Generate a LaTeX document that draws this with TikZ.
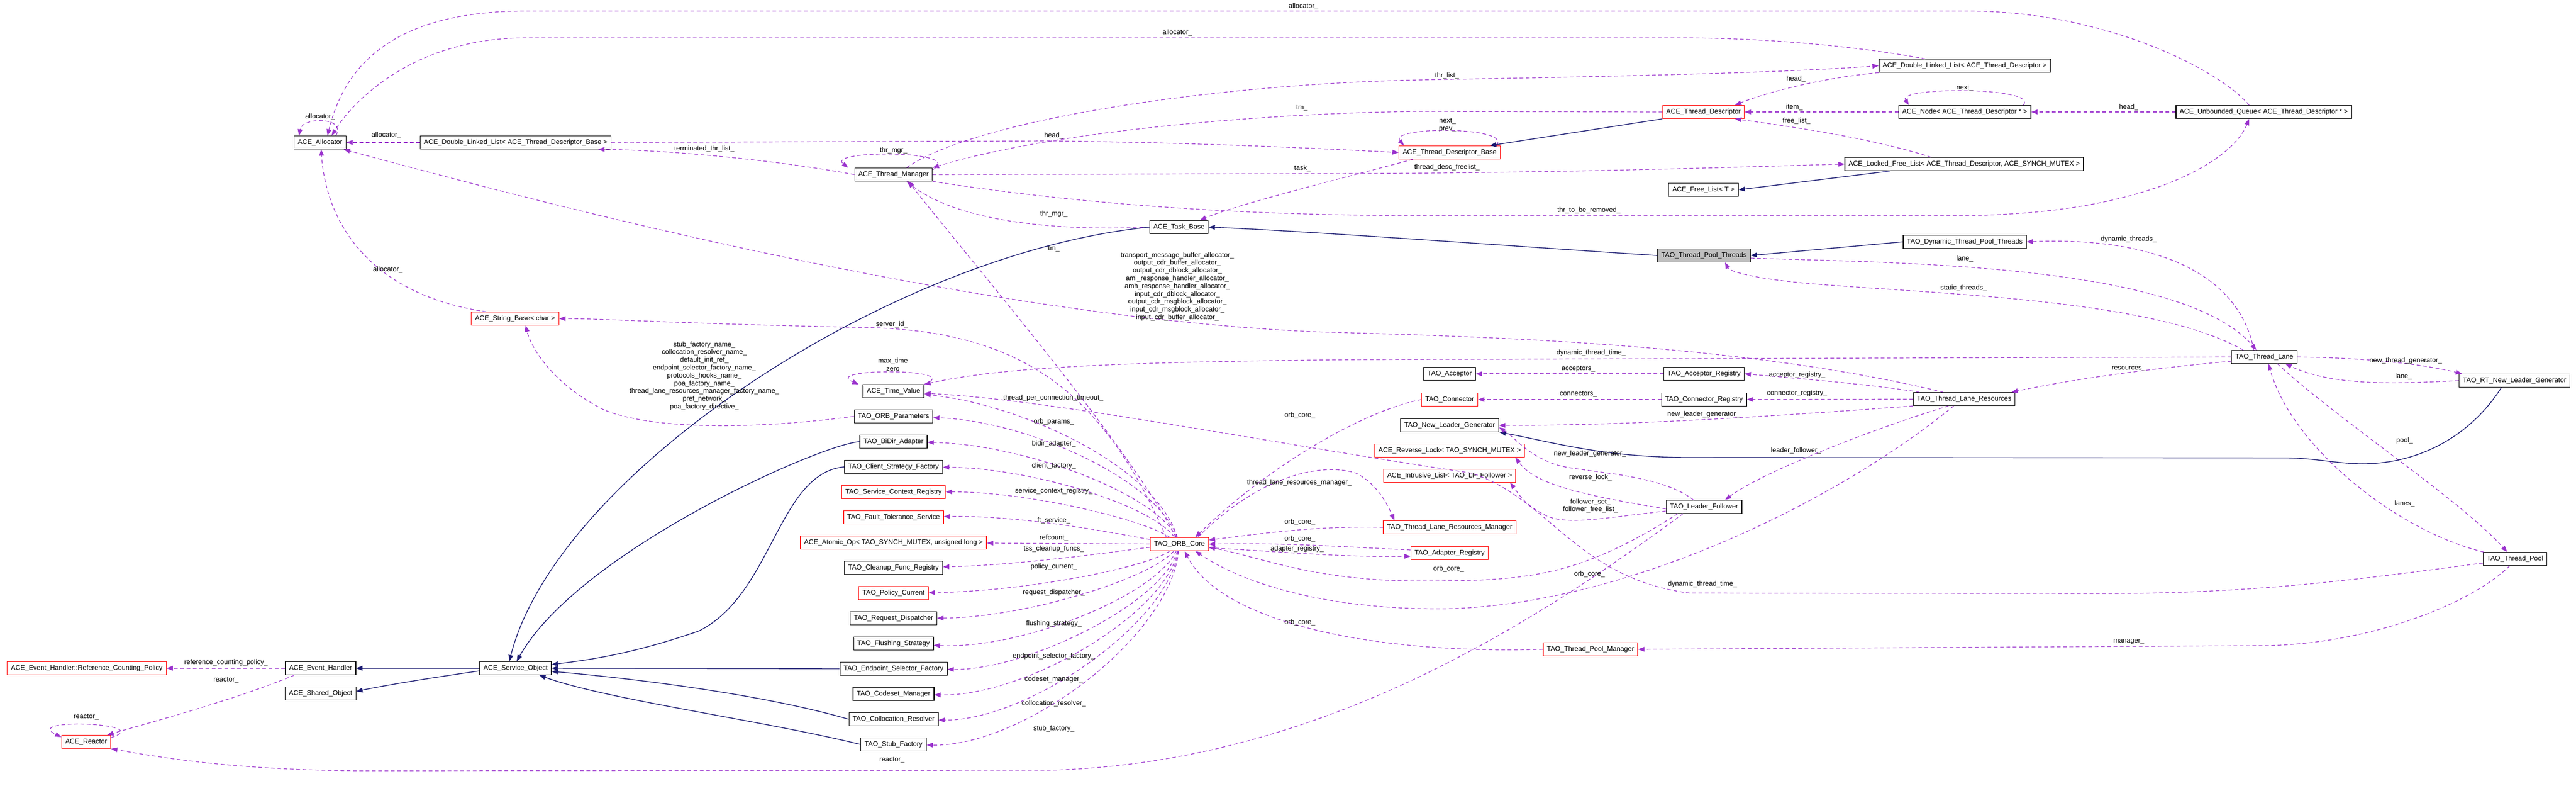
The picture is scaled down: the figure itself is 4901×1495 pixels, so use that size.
\documentclass[tikz,border=0pt]{standalone}
\usepackage{fontspec}
\setmainfont{Liberation Sans}
\usetikzlibrary{arrows.meta}
\definecolor{dpurple}{HTML}{9A32CD}
\definecolor{inhblue}{HTML}{191970}
\newcommand\lblfont{\fontsize{13}{14.8}\selectfont}
\tikzset{
 cls/.style={draw=black, line width=1.2pt, fill=white, inner xsep=7pt, inner ysep=0pt, minimum height=25pt, font=\lblfont},
 redcls/.style={cls, draw=red},
 graycls/.style={cls, fill=black!25},
 dep/.style={draw=dpurple, line width=1.2pt, dash pattern=on 7pt off 5pt, -{Triangle[length=12pt,width=9pt,fill=dpurple]}},
 inh/.style={draw=inhblue, line width=1.4pt, -{Triangle[length=12pt,width=9pt,fill=inhblue]}},
 lab/.style={font=\lblfont, inner sep=1pt, align=center}
}
\begin{document}
\begin{tikzpicture}[x=1pt,y=-1pt]
\useasboundingbox[fill=white] (0,0) rectangle (4901,1495);
% nodes
\node[cls] (alloc) at (609,271) {ACE\_Allocator};
\node[cls] (dlltdb) at (981,271) {ACE\_Double\_Linked\_List< ACE\_Thread\_Descriptor\_Base >};
\node[cls] (tm) at (1700,332) {ACE\_Thread\_Manager};
\node[cls] (task) at (2243,432) {ACE\_Task\_Base};
\node[cls] (dlltd) at (3738,125) {ACE\_Double\_Linked\_List< ACE\_Thread\_Descriptor >};
\node[redcls] (td) at (3241,213) {ACE\_Thread\_Descriptor};
\node[cls] (anode) at (3738,213) {ACE\_Node< ACE\_Thread\_Descriptor * >};
\node[cls] (uq) at (4307,213) {ACE\_Unbounded\_Queue< ACE\_Thread\_Descriptor * >};
\node[redcls] (tdb) at (2758,290) {ACE\_Thread\_Descriptor\_Base};
\node[cls] (lfl) at (3737,312) {ACE\_Locked\_Free\_List< ACE\_Thread\_Descriptor, ACE\_SYNCH\_MUTEX >};
\node[cls] (fl) at (3241,361) {ACE\_Free\_List< T >};
\node[cls] (dtpt) at (3738,460) {TAO\_Dynamic\_Thread\_Pool\_Threads};
\node[graycls] (tpt) at (3242,486) {TAO\_Thread\_Pool\_Threads};
\node[cls] (lane) at (4308,679) {TAO\_Thread\_Lane};
\node[cls] (rtnlg) at (4784,724) {TAO\_RT\_New\_Leader\_Generator};
\node[cls] (pool) at (4785,1063) {TAO\_Thread\_Pool};
\node[cls] (tlr) at (3737,759) {TAO\_Thread\_Lane\_Resources};
\node[cls] (acc) at (2758,711) {TAO\_Acceptor};
\node[cls] (accr) at (3242,711) {TAO\_Acceptor\_Registry};
\node[redcls] (con) at (2758,760) {TAO\_Connector};
\node[cls] (conr) at (3242,760) {TAO\_Connector\_Registry};
\node[cls] (nlg) at (2758,809) {TAO\_New\_Leader\_Generator};
\node[redcls] (rlock) at (2758,857) {ACE\_Reverse\_Lock< TAO\_SYNCH\_MUTEX >};
\node[redcls] (ilist) at (2758,905) {ACE\_Intrusive\_List< TAO\_LF\_Follower >};
\node[cls] (lf) at (3242,964) {TAO\_Leader\_Follower};
\node[redcls] (tlrm) at (2758,1003) {TAO\_Thread\_Lane\_Resources\_Manager};
\node[redcls] (areg) at (2758,1052) {TAO\_Adapter\_Registry};
\node[redcls] (tpm) at (3026,1235) {TAO\_Thread\_Pool\_Manager};
\node[redcls] (orb) at (2244,1035) {TAO\_ORB\_Core};
\node[redcls] (sb) at (980,606) {ACE\_String\_Base< char >};
\node[cls] (tv) at (1700,744) {ACE\_Time\_Value};
\node[cls] (params) at (1700,792) {TAO\_ORB\_Parameters};
\node[cls] (bidir) at (1700,840) {TAO\_BiDir\_Adapter};
\node[cls] (csf) at (1700,888) {TAO\_Client\_Strategy\_Factory};
\node[redcls] (scr) at (1700,936) {TAO\_Service\_Context\_Registry};
\node[redcls] (fts) at (1700,984) {TAO\_Fault\_Tolerance\_Service};
\node[redcls] (atom) at (1700,1032) {ACE\_Atomic\_Op< TAO\_SYNCH\_MUTEX, unsigned long >};
\node[cls] (cfr) at (1700,1080) {TAO\_Cleanup\_Func\_Registry};
\node[redcls] (pc) at (1700,1128) {TAO\_Policy\_Current};
\node[cls] (rd) at (1700,1176) {TAO\_Request\_Dispatcher};
\node[cls] (fs) at (1700,1224) {TAO\_Flushing\_Strategy};
\node[cls] (esf) at (1700,1272) {TAO\_Endpoint\_Selector\_Factory};
\node[cls] (cm) at (1700,1320) {TAO\_Codeset\_Manager};
\node[cls] (cr) at (1700,1368) {TAO\_Collocation\_Resolver};
\node[cls] (stub) at (1700,1416) {TAO\_Stub\_Factory};
\node[cls] (so) at (981,1271) {ACE\_Service\_Object};
\node[cls] (eh) at (610,1271) {ACE\_Event\_Handler};
\node[cls] (sho) at (610,1319) {ACE\_Shared\_Object};
\node[redcls] (rcp) at (165,1271) {ACE\_Event\_Handler::Reference\_Counting\_Policy};
\node[redcls] (reactor) at (164,1411) {ACE\_Reactor};

% self loops
\draw[dep] ([xshift=30]alloc.north) .. controls (660,222) and (575,222) .. ([xshift=-40]alloc.north);
\draw[dep] ([yshift=-4]tm.north east) .. controls (1840,285) and (1570,285) .. ([xshift=-12]tm.north west);
\draw[dep] ([xshift=-8]tdb.north east) .. controls (2880,240) and (2640,240) .. ([xshift=10]tdb.north west);
\draw[dep] ([xshift=-15]anode.north east) .. controls (3880,165) and (3610,165) .. ([xshift=20]anode.north west);
\draw[dep] (tv.north east) .. controls (1840,700) and (1560,700) .. ([xshift=-8]tv.north west);
\draw[dep] ([yshift=-5]reactor.north east) .. controls (300,1375) and (40,1365) .. ([yshift=-4]reactor.north west);

% allocator edges
\draw[dep] ([xshift=-28]uq.north) .. controls (4220,130) and (4000,21) .. (3744,21) -- (1000,21) .. controls (720,21) and (650,150) .. ([xshift=14]alloc.north);
\draw[dep] ([xshift=-75]dlltd.north) .. controls (3500,82) and (3320,72) .. (3200,72) -- (1000,72) .. controls (800,72) and (680,180) .. ([xshift=22]alloc.north);
\draw[dep] (dlltdb) -- (alloc);
\draw[dep] ([xshift=-55]sb.north) .. controls (700,560) and (620,420) .. ([xshift=2]alloc.south);
\draw[dep] ([xshift=-40]tlr.north) .. controls (3300,650) and (2800,640) .. (2500,631) .. controls (1800,600) and (900,350) .. ([xshift=45]alloc.south);

% thread manager area
\draw[dep] (tm.west) .. controls (1450,300) and (1250,285) .. ([xshift=-25]dlltdb.south east);
\draw[dep] (task.west) .. controls (2000,440) and (1820,420) .. ([xshift=25]tm.south);
\draw[dep] (orb) .. controls (2150,850) and (1850,500) .. ([xshift=28]tm.south);
\draw[dep] ([xshift=25]tm.north) .. controls (1850,230) and (2300,160) .. (2700,152) .. controls (3100,145) and (3400,138) .. (dlltd.west);
\draw[dep] (td.west) -- (2700,212) .. controls (2400,215) and (2000,250) .. (tm.north east);
\draw[dep] (dlltdb.east) -- (2000,268) .. controls (2300,272) and (2500,282) .. (tdb.west);
\draw[inh] (td.south west) -- ([xshift=-20]tdb.north east);
\draw[dep] (tm.east) -- (2600,330) .. controls (3000,328) and (3300,318) .. (lfl.west);
\draw[dep] ([xshift=-70]tdb.south) .. controls (2550,340) and (2350,390) .. ([xshift=40]task.north);
\draw[dep] (tm.south east) .. controls (2000,380) and (2300,410) .. (2700,410) -- (3744,410) .. controls (4100,405) and (4250,300) .. ([xshift=-28]uq.south);
\draw[dep] (dlltd.south west) .. controls (3450,150) and (3350,180) .. ([xshift=60]td.north);
\draw[dep] (anode) -- (td);
\draw[dep] (uq) -- (anode);
\draw[dep] ([xshift=-63]lfl.north) .. controls (3550,260) and (3400,240) .. ([xshift=60]td.south);
\draw[inh] ([xshift=-140]lfl.south) -- (fl.east);
\draw[inh] (tpt.west) .. controls (2900,470) and (2500,440) .. (task.east);
\draw[inh] (dtpt.west) -- (tpt.east);

% thread lane
\draw[dep] ([xshift=-20]lane.north) .. controls (4260,520) and (4100,450) .. (dtpt.east);
\draw[dep] ([yshift=-5]tpt.east) .. controls (3600,500) and (4150,500) .. ([xshift=-15]lane.north);
\draw[dep] ([xshift=-40]lane.north) .. controls (4100,570) and (3700,560) .. (3450,540) .. controls (3330,530) and (3290,515) .. ([xshift=40]tpt.south);
\draw[dep] ([yshift=-8]lane.west) .. controls (4100,700) and (3950,720) .. ([xshift=90]tlr.north);
\draw[dep] (lane.west) -- (2600,684) .. controls (2100,688) and (1900,700) .. (tv.north east);
\draw[dep] (lane.east) .. controls (4480,680) and (4600,690) .. ([xshift=-100]rtnlg.north);
\draw[dep] (rtnlg.west) .. controls (4560,730) and (4440,735) .. ([xshift=40]lane.south);
\draw[dep] ([xshift=-60]pool.north) .. controls (4560,1010) and (4360,850) .. ([xshift=8]lane.south);
\draw[dep] ([xshift=25]lane.south) .. controls (4450,800) and (4680,950) .. ([xshift=-15]pool.north);
\draw[inh] ([xshift=-25]rtnlg.south) .. controls (4700,830) and (4600,884) .. (4490,882) .. controls (4450,882) and (4400,871) .. (4350,871) -- (3210,870) .. controls (3050,870) and (2950,840) .. ([xshift=95]nlg.south);

% resources
\draw[dep] ([xshift=-85]tlr.north) .. controls (3550,730) and (3420,720) .. (accr.east);
\draw[dep] (tlr) -- (conr);
\draw[dep] (accr) -- (acc);
\draw[dep] (conr) -- (con);
\draw[dep] (tlr.south west) .. controls (3400,790) and (3100,810) .. (nlg.east);
\draw[dep] ([xshift=-30]tlr.south) .. controls (3550,820) and (3350,900) .. ([xshift=40]lf.north);
\draw[dep] ([xshift=-20]lf.north) .. controls (3150,895) and (2990,900) .. (2950,880) .. controls (2900,860) and (2880,830) .. ([yshift=-4]nlg.east);
\draw[dep] ([yshift=-4]lf.west) .. controls (3000,940) and (2920,920) .. ([xshift=125]rlock.south);
\draw[dep] ([yshift=-8]lf.west) .. controls (3050,985) and (2980,1000) .. (2940,980) .. controls (2900,960) and (2890,940) .. ([xshift=115]ilist.south);
\draw[dep] ([xshift=-50]lf.south) .. controls (3000,1100) and (2900,1105) .. (2700,1105) .. controls (2500,1105) and (2400,1060) .. ([yshift=-6]orb.east);
\draw[dep] ([xshift=-20]tlr.south) .. controls (3500,950) and (3100,1150) .. (2750,1158) .. controls (2500,1160) and (2350,1100) .. ([xshift=30]orb.south);
\draw[dep] (tpm.west) .. controls (2600,1245) and (2320,1180) .. ([xshift=10]orb.south);
\draw[dep] (con.west) .. controls (2600,780) and (2420,880) .. ([xshift=30]orb.north);
\draw[dep] ([xshift=35]orb.north) .. controls (2400,900) and (2520,880) .. (2580,900) .. controls (2620,920) and (2640,960) .. ([xshift=-105]tlrm.north);
\draw[dep] (tlrm.west) .. controls (2500,1000) and (2400,1015) .. ([yshift=8]orb.east);
\draw[dep] ([yshift=-7]orb.east) .. controls (2450,1050) and (2550,1060) .. ([yshift=-6]areg.west);
\draw[dep] ([yshift=6]areg.west) .. controls (2550,1040) and (2450,1032) .. (orb.east);
\draw[dep] ([xshift=-10]pool.south) .. controls (4700,1150) and (4500,1228) .. (4300,1228) -- (tpm.east);
\draw[dep] ([yshift=-8]pool.west) .. controls (4500,1100) and (4300,1129) .. (4000,1129) -- (3214,1128) .. controls (3000,1100) and (2950,950) .. (2800,900) .. controls (2400,840) and (2000,760) .. ([yshift=-4]tv.east);

% ORB core fan
\draw[dep] ([xshift=-25]orb.north) .. controls (2100,750) and (1950,630) .. (1650,623) .. controls (1300,616) and (1150,606) .. (sb.east);
\draw[dep] (params.west) .. controls (1450,815) and (1250,820) .. (1150,780) .. controls (1050,730) and (1010,660) .. ([xshift=20]sb.south);
\draw[dep] (orb) .. controls (2200,890) and (1950,770) .. (tv);
\draw[dep] (orb) .. controls (2200,910) and (1950,800) .. (params);
\draw[dep] (orb) .. controls (2200,940) and (1950,845) .. (bidir);
\draw[dep] (orb) .. controls (2190,960) and (1960,890) .. (csf);
\draw[dep] (orb) .. controls (2180,990) and (1960,935) .. (scr);
\draw[dep] (orb) .. controls (2150,1020) and (1960,980) .. (fts);
\draw[dep] (orb) -- (atom);
\draw[dep] (orb) .. controls (2150,1045) and (1950,1075) .. (cfr);
\draw[dep] (orb) .. controls (2180,1080) and (1950,1125) .. (pc);
\draw[dep] (orb) .. controls (2190,1100) and (1950,1175) .. (rd);
\draw[dep] (orb) .. controls (2200,1130) and (1950,1235) .. (fs);
\draw[dep] (orb) .. controls (2210,1150) and (1950,1275) .. (esf);
\draw[dep] (orb) .. controls (2215,1170) and (1950,1325) .. (cm);
\draw[dep] (orb) .. controls (2220,1190) and (1950,1372) .. (cr);
\draw[dep] (orb) .. controls (2225,1210) and (1950,1420) .. (stub);

% inheritance to service object
\draw[inh] (task.west) .. controls (1700,480) and (1060,900) .. ([xshift=-12]so.north);
\draw[inh] (bidir.west) .. controls (1560,845) and (1100,1050) .. ([xshift=2]so.north);
\draw[inh] (csf.west) .. controls (1480,900) and (1470,1130) .. (1330,1200) .. controls (1200,1245) and (1120,1255) .. ([yshift=7]so.east);
\draw[inh] (esf.west) -- (so.east);
\draw[inh] (cr.west) .. controls (1450,1320) and (1200,1290) .. ([yshift=-6]so.east);
\draw[inh] (stub.west) .. controls (1450,1370) and (1150,1330) .. ([xshift=45]so.south);
\draw[inh] (so.west) -- (eh.east);
\draw[inh] ([yshift=-5]so.west) .. controls (850,1285) and (750,1300) .. ([yshift=4]sho.east);
\draw[dep] (eh) -- (rcp);
\draw[dep] ([xshift=-50]eh.south) .. controls (450,1330) and (300,1370) .. ([xshift=40]reactor.north);
\draw[dep] ([xshift=-40]lf.south) .. controls (2900,1200) and (2500,1450) .. (2000,1465) -- (700,1466) .. controls (450,1466) and (300,1440) .. (reactor.south east);

% labels
\node[lab] (l1) at (609,222) {allocator\_};
\node[lab] (l2) at (2480,12) {allocator\_};
\node[lab] (l3) at (2240,62) {allocator\_};
\node[lab] (l4) at (735,257) {allocator\_};
\node[lab] (l5) at (738,513) {allocator\_};
\node[lab] (l6) at (1340,283) {terminated\_thr\_list\_};
\node[lab] (l7) at (1700,286) {thr\_mgr\_};
\node[lab] (l8) at (2005,407) {thr\_mgr\_};
\node[lab] (l9) at (2005,474) {tm\_};
\node[lab] (l10) at (2753,144) {thr\_list\_};
\node[lab] (l11) at (2477,206) {tm\_};
\node[lab] (l12) at (2005,258) {head\_};
\node[lab] (l13) at (2754,238) {next\_\\prev\_};
\node[lab] (l14) at (2753,318) {thread\_desc\_freelist\_};
\node[lab] (l15) at (2478,320) {task\_};
\node[lab] (l16) at (3023,400) {thr\_to\_be\_removed\_};
\node[lab] (l17) at (3417,150) {head\_};
\node[lab] (l18) at (3414,204) {item\_};
\node[lab] (l19) at (3738,168) {next\_};
\node[lab] (l20) at (4050,204) {head\_};
\node[lab] (l21) at (3418,230) {free\_list\_};
\node[lab] (l22) at (4050,455) {dynamic\_threads\_};
\node[lab] (l23) at (3738,492) {lane\_};
\node[lab] (l24) at (3736,548) {static\_threads\_};
\node[lab] (l25) at (4050,701) {resources\_};
\node[lab] (l26) at (3027,671) {dynamic\_thread\_time\_};
\node[lab] (l27) at (4577,686) {new\_thread\_generator\_};
\node[lab] (l28) at (4573,716) {lane\_};
\node[lab] (l29) at (4575,958) {lanes\_};
\node[lab] (l30) at (4575,838) {pool\_};
\node[lab] (l31) at (3419,713) {acceptor\_registry\_};
\node[lab] (l32) at (3419,748) {connector\_registry\_};
\node[lab] (l33) at (3003,702) {acceptors\_};
\node[lab] (l34) at (3003,750) {connectors\_};
\node[lab] (l35) at (3241,788) {new\_leader\_generator\_};
\node[lab] (l36) at (3417,857) {leader\_follower\_};
\node[lab] (l37) at (3025,863) {new\_leader\_generator\_};
\node[lab] (l38) at (3026,908) {reverse\_lock\_};
\node[lab] (l39) at (3026,962) {follower\_set\_\\follower\_free\_list\_};
\node[lab] (l40) at (2756,1082) {orb\_core\_};
\node[lab] (l41) at (3024,1092) {orb\_core\_};
\node[lab] (l42) at (2473,1184) {orb\_core\_};
\node[lab] (l43) at (2473,790) {orb\_core\_};
\node[lab] (l44) at (2472,918) {thread\_lane\_resources\_manager\_};
\node[lab] (l45) at (2473,993) {orb\_core\_};
\node[lab] (l46) at (2468,1044) {adapter\_registry\_};
\node[lab] (l47) at (2473,1025) {orb\_core\_};
\node[lab] (l48) at (4050,1220) {manager\_};
\node[lab] (l49) at (3239,1111) {dynamic\_thread\_time\_};
\node[lab] (l50) at (2240,545) {transport\_message\_buffer\_allocator\_\\output\_cdr\_buffer\_allocator\_\\output\_cdr\_dblock\_allocator\_\\ami\_response\_handler\_allocator\_\\amh\_response\_handler\_allocator\_\\input\_cdr\_dblock\_allocator\_\\output\_cdr\_msgblock\_allocator\_\\input\_cdr\_msgblock\_allocator\_\\input\_cdr\_buffer\_allocator\_};
\node[lab] (l51) at (1697,617) {server\_id\_};
\node[lab] (l52) at (1340,715) {stub\_factory\_name\_\\collocation\_resolver\_name\_\\default\_init\_ref\_\\endpoint\_selector\_factory\_name\_\\protocols\_hooks\_name\_\\poa\_factory\_name\_\\thread\_lane\_resources\_manager\_factory\_name\_\\pref\_network\_\\poa\_factory\_directive\_};
\node[lab] (l53) at (1699,693) {max\_time\\zero};
\node[lab] (l54) at (2004,757) {thread\_per\_connection\_timeout\_};
\node[lab] (l55) at (2005,802) {orb\_params\_};
\node[lab] (l56) at (2005,844) {bidir\_adapter\_};
\node[lab] (l57) at (2005,886) {client\_factory\_};
\node[lab] (l58) at (2005,934) {service\_context\_registry\_};
\node[lab] (l59) at (2005,990) {ft\_service\_};
\node[lab] (l60) at (2005,1023) {refcount\_};
\node[lab] (l61) at (2005,1044) {tss\_cleanup\_funcs\_};
\node[lab] (l62) at (2005,1078) {policy\_current\_};
\node[lab] (l63) at (2005,1127) {request\_dispatcher\_};
\node[lab] (l64) at (2005,1186) {flushing\_strategy\_};
\node[lab] (l65) at (2005,1248) {endpoint\_selector\_factory\_};
\node[lab] (l66) at (2005,1292) {codeset\_manager\_};
\node[lab] (l67) at (2005,1338) {collocation\_resolver\_};
\node[lab] (l68) at (2005,1386) {stub\_factory\_};
\node[lab] (l69) at (430,1260) {reference\_counting\_policy\_};
\node[lab] (l70) at (430,1294) {reactor\_};
\node[lab] (l71) at (164,1364) {reactor\_};
\node[lab] (l72) at (1697,1446) {reactor\_};
\end{tikzpicture}
\end{document}
